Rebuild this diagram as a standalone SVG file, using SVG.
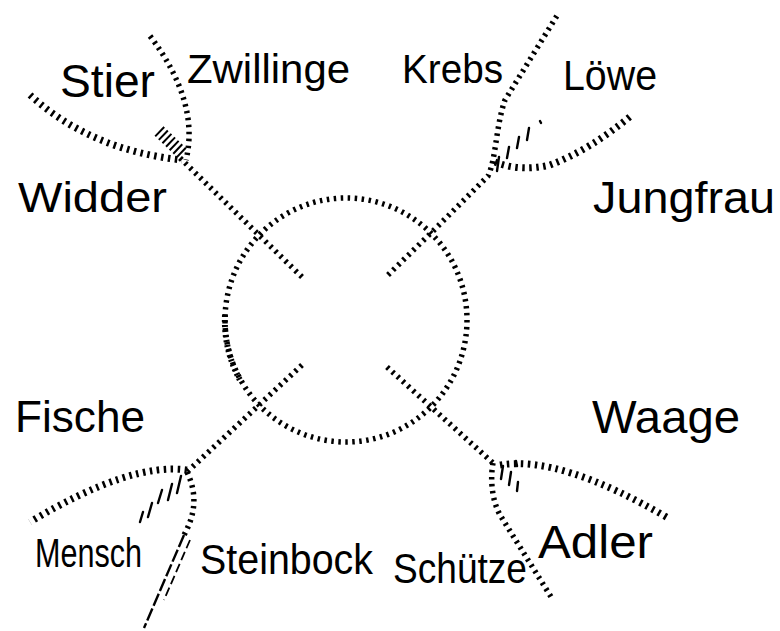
<svg xmlns="http://www.w3.org/2000/svg" width="780" height="631" viewBox="0 0 780 631">
<style>
.t{fill:none;stroke:#000;stroke-width:5.5;stroke-dasharray:2.5 4.5}
.tw{fill:none;stroke:#000;stroke-width:7;stroke-dasharray:2.5 4.5}
.hx{fill:none;stroke:#000;stroke-width:2.4;stroke-linecap:round}
.ld{fill:none;stroke:#000;stroke-width:2.4;stroke-dasharray:13 3}
.lb{font-family:"Liberation Sans",Arial,sans-serif;fill:#000}
</style>
<rect width="780" height="631" fill="#fff"/>
<g id="connectors">
  <ellipse class="t" cx="346" cy="320" rx="121" ry="122"/>
  <path class="t" d="M225,315 A121,122 0 0 0 240,380" style="stroke-dasharray:2 3;stroke-width:6"/>
  <!-- NW -->
  <path class="t" d="M180,158 L305,280"/>
  <path class="t" d="M150,36 Q200,102 186,160"/>
  <path class="tw" d="M30,95 Q90,150 182,160"/>
  <path class="t" d="M159,131 L184,155" style="stroke-width:13;stroke-dasharray:2 3"/>
  <!-- NE -->
  <path class="t" d="M388,275 L432,232 L488,176 C496,160 496,125 505,100 L558,14"/>
  <path class="tw" d="M495,162 Q520,172 550,165 Q590,150 632,115"/>
  <path class="hx" d="M540,121 l1,2 M529,128 l-2,12 M519,137 l-2,11 M509,147 l-2,11 M499,157 l-2,14"/>
  <!-- SW -->
  <path class="t" d="M302,365 L187,472"/>
  <path class="t" d="M187,472 C198,495 195,515 184,535"/>
  <path class="ld" d="M184,535 L144,628"/>
  <path class="ld" d="M190,540 L164,600" style="stroke-width:1.8;stroke-dasharray:9 4"/>
  <path class="tw" d="M187,470 Q130,462 30,522"/>
  <path class="hx" d="M140,522 l3,-10 M148,517 l4,-14 M158,503 l4,-13 M168,500 l4,-16 M177,493 l4,-17"/>
  <!-- SE -->
  <path class="t" d="M387,367 L493,463"/>
  <path class="t" d="M493,463 C490,480 492,500 500,515 L553,600"/>
  <path class="tw" d="M500,465 Q560,455 668,518"/>
  <path class="hx" d="M503,466 l-2,13 M511,472 l-2,13 M518,482 l-1,9 M516,461 l1,5"/>
</g>
<g id="label-stier"><text class="lb" x="60" y="97" font-size="46" textLength="95" lengthAdjust="spacingAndGlyphs">Stier</text></g>
<g id="label-zwillinge"><text class="lb" x="187" y="83" font-size="40" textLength="163" lengthAdjust="spacingAndGlyphs">Zwillinge</text></g>
<g id="label-widder"><text class="lb" x="18" y="212" font-size="42" textLength="149" lengthAdjust="spacingAndGlyphs">Widder</text></g>
<g id="label-krebs"><text class="lb" x="402" y="83" font-size="40" textLength="101" lengthAdjust="spacingAndGlyphs">Krebs</text></g>
<g id="label-loewe"><text class="lb" x="563" y="90" font-size="42" textLength="94" lengthAdjust="spacingAndGlyphs">Löwe</text></g>
<g id="label-jungfrau"><text class="lb" x="593" y="213" font-size="44" textLength="182" lengthAdjust="spacingAndGlyphs">Jungfrau</text></g>
<g id="label-fische"><text class="lb" x="15" y="432" font-size="44" textLength="130" lengthAdjust="spacingAndGlyphs">Fische</text></g>
<g id="label-waage"><text class="lb" x="592" y="433" font-size="46" textLength="148" lengthAdjust="spacingAndGlyphs">Waage</text></g>
<g id="label-mensch"><text class="lb" x="35" y="567" font-size="40" textLength="107" lengthAdjust="spacingAndGlyphs">Mensch</text></g>
<g id="label-steinbock"><text class="lb" x="200" y="574" font-size="42" textLength="173" lengthAdjust="spacingAndGlyphs">Steinbock</text></g>
<g id="label-schuetze"><text class="lb" x="393" y="583" font-size="42" textLength="134" lengthAdjust="spacingAndGlyphs">Schütze</text></g>
<g id="label-adler"><text class="lb" x="538" y="558" font-size="46" textLength="115" lengthAdjust="spacingAndGlyphs">Adler</text></g>
</svg>
